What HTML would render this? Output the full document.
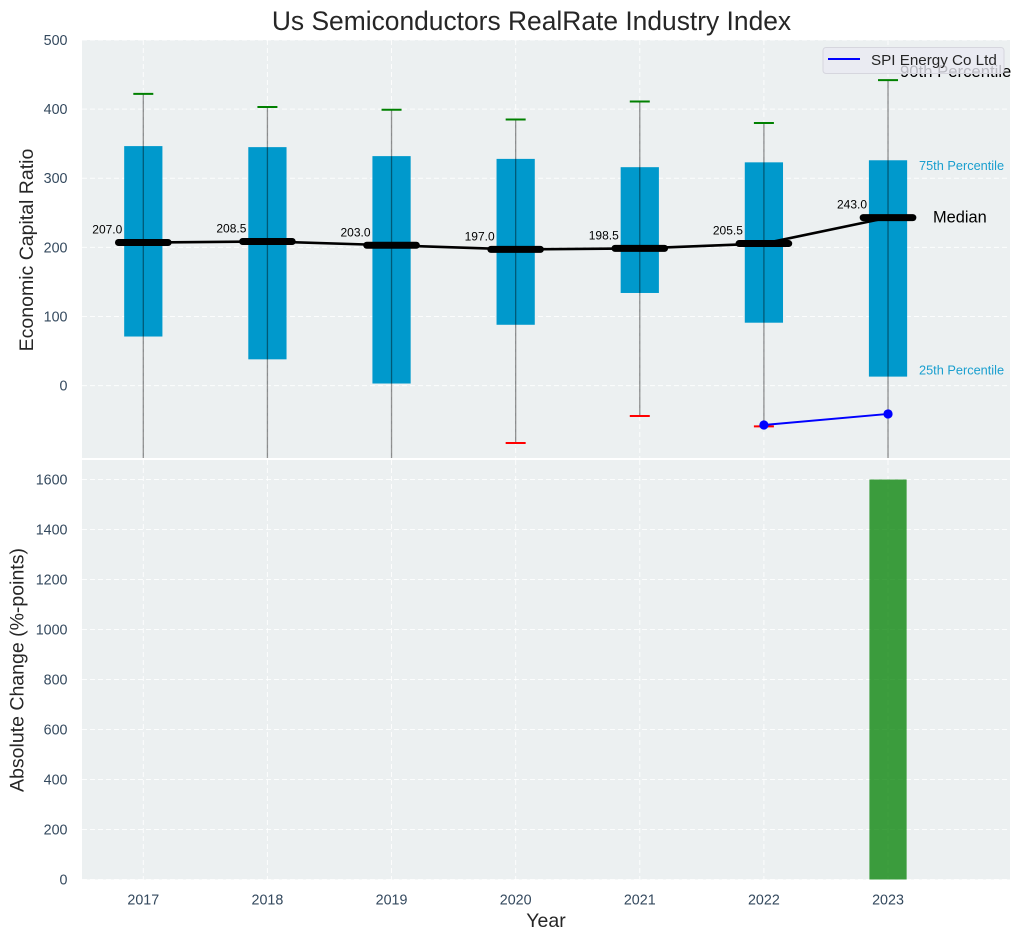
<!DOCTYPE html>
<html lang="en">
<head>
<meta charset="utf-8">
<title>Us Semiconductors RealRate Industry Index</title>
<style>
html,body{margin:0;padding:0;background:#fff;width:1021px;height:940px;overflow:hidden}
svg{display:block;font-family:"Liberation Sans",Arial,sans-serif}
</style>
</head>
<body>
<svg id="chart" xmlns="http://www.w3.org/2000/svg" width="1021" height="940" viewBox="0 0 1021 940">
  <defs>
    <clipPath id="clip-top"><rect x="82" y="40" width="928" height="418"></rect></clipPath>
    <clipPath id="clip-bottom"><rect x="82" y="460" width="928" height="419.5"></rect></clipPath>
  </defs>
  <rect x="0" y="0" width="1021" height="940" fill="#ffffff"></rect>
  <text x="531.5" y="30" font-size="26.4" text-anchor="middle" fill="#262626">Us Semiconductors RealRate Industry Index</text>
  <rect x="82" y="40" width="928" height="418" fill="#ecf0f1"></rect>
  <rect x="82" y="460" width="928" height="419.5" fill="#ecf0f1"></rect>
  <g id="top-grid"></g>
  <g id="bottom-grid"></g>
  <g id="top-marks" clip-path="url(#clip-top)"></g>
  <g id="bottom-marks" clip-path="url(#clip-bottom)"></g>
  <g id="tick-labels"></g>
  <g id="value-labels"></g>
  <text x="900" y="77" font-size="16.7" fill="#000000">90th Percentile</text>
  <text x="919" y="170" font-size="12.75" fill="#1a9fcf">75th Percentile</text>
  <text x="933" y="222.5" font-size="16.4" fill="#000000">Median</text>
  <text x="919" y="374.5" font-size="12.75" fill="#1a9fcf">25th Percentile</text>
  <g>
    <rect x="823" y="47.5" width="181" height="26" rx="3" fill="#eaeaf2" fill-opacity="0.8" stroke="#d6d6de" stroke-width="1"></rect>
    <line x1="828" y1="59" x2="860" y2="59" stroke="#0000ff" stroke-width="2"></line>
    <text x="871" y="65" font-size="15.2" fill="#262626">SPI Energy Co Ltd</text>
  </g>
  <text transform="translate(33,250) rotate(-90)" font-size="19.5" text-anchor="middle" fill="#262626">Economic Capital Ratio</text>
  <text transform="translate(23.5,670) rotate(-90)" font-size="19.5" text-anchor="middle" fill="#262626">Absolute Change (%-points)</text>
  <text x="546" y="927" font-size="19.5" text-anchor="middle" fill="#262626">Year</text>
</svg>
<script>
var years = [2017, 2018, 2019, 2020, 2021, 2022, 2023];
var p90 = [422, 403, 399, 385, 411, 380, 442];
var p75 = [346.5, 345, 332, 328, 316, 323, 326];
var medians = [207, 208.5, 203, 197, 198.5, 205.5, 243];
var p25 = [71, 38, 3, 88, 134, 91, 13];
var p10 = [-130, -150, -140, -83, -44, -59, -125];
var companyYears = [2022, 2023];
var companyValues = [-57, -41];
var absoluteChange = [0, 0, 0, 0, 0, 0, 1600];
var topTicks = [0, 100, 200, 300, 400, 500];
var bottomTicks = [0, 200, 400, 600, 800, 1000, 1200, 1400, 1600];

var NS = 'http://www.w3.org/2000/svg';
function x(year) { return 143.3 + (year - 2017) * 124.12; }
function yTop(v) { return 385.6 - v * 0.6912; }
function yBottom(v) { return 879.5 - v * 0.25; }
function make(tag, parent, attrs) {
  var el = document.createElementNS(NS, tag);
  for (var k in attrs) el.setAttribute(k, attrs[k]);
  parent.appendChild(el);
  return el;
}
var topGrid = document.getElementById('top-grid');
var bottomGrid = document.getElementById('bottom-grid');
var topMarks = document.getElementById('top-marks');
var bottomMarks = document.getElementById('bottom-marks');
var tickLabels = document.getElementById('tick-labels');
var valueLabels = document.getElementById('value-labels');
var grid = {stroke: '#ffffff', 'stroke-width': 1, 'stroke-dasharray': '5 3', 'stroke-opacity': 0.85};
function gridLine(parent, x1, y1, x2, y2, name) {
  var a = {x1: x1, y1: y1, x2: x2, y2: y2};
  for (var k in grid) a[k] = grid[k];
  var el = make('line', parent, a);
  
  
}
function tickText(px, py, anchor, txt, name) {
  var el = make('text', tickLabels, {x: px, y: py, 'text-anchor': anchor, 'font-size': 14.3, fill: '#34495e'});
  el.textContent = txt;
  
  
}
topTicks.forEach(function (t) {
  gridLine(topGrid, 82, yTop(t), 1010, yTop(t), 'top-grid-line-' + t);
  tickText(67.5, yTop(t) + 5, 'end', String(t), 'top-y-tick-' + t);
});
bottomTicks.forEach(function (t) {
  gridLine(bottomGrid, 82, yBottom(t), 1010, yBottom(t), 'bottom-grid-line-' + t);
  tickText(67.5, yBottom(t) + 5, 'end', String(t), 'bottom-y-tick-' + t);
});
years.forEach(function (yr, i) {
  var cx = x(yr);
  gridLine(topGrid, cx, 40, cx, 458, 'top-grid-line-' + yr);
  gridLine(bottomGrid, cx, 460, cx, 879.5, 'bottom-grid-line-' + yr);
  tickText(cx, 904.5, 'middle', String(yr), 'x-tick-' + yr);

  var halfBox = x(yr + 0.15) - cx;
  var box = make('rect', topMarks, {x: cx - halfBox - 0.5, y: yTop(p75[i]), width: 2 * halfBox + 1, height: yTop(p25[i]) - yTop(p75[i]), fill: '#0099cc'});
  
  

  var whisker = make('line', topMarks, {x1: cx, y1: yTop(p90[i]), x2: cx, y2: yTop(p10[i]), stroke: '#000000', 'stroke-opacity': 0.42, 'stroke-width': 1.3});
  
  

  var capHigh = make('line', topMarks, {x1: cx - 10, y1: yTop(p90[i]), x2: cx + 10, y2: yTop(p90[i]), stroke: '#008000', 'stroke-width': 2});
  
  

  var capLow = make('line', topMarks, {x1: cx - 10, y1: yTop(p10[i]), x2: cx + 10, y2: yTop(p10[i]), stroke: '#ff0000', 'stroke-width': 2});
  
  

  var bar = make('rect', bottomMarks, {x: cx - halfBox, y: yBottom(absoluteChange[i]), width: 2 * halfBox, height: yBottom(0) - yBottom(absoluteChange[i]), fill: '#008000', 'fill-opacity': 0.75});
  
  
});
var medianPts = years.map(function (yr, i) { return x(yr) + ',' + yTop(medians[i]); }).join(' ');
var medianLine = make('polyline', topMarks, {points: medianPts, fill: 'none', stroke: '#000000', 'stroke-width': 2.6});


years.forEach(function (yr, i) {
  var cx = x(yr);
  var half = x(yr + 0.2) - cx;
  var seg = make('line', topMarks, {x1: cx - half, y1: yTop(medians[i]), x2: cx + half, y2: yTop(medians[i]), stroke: '#000000', 'stroke-width': 7, 'stroke-linecap': 'round'});
  
  
  var lab = make('text', valueLabels, {x: cx - 21, y: yTop(medians[i]) - 9, 'text-anchor': 'end', 'font-size': 12, fill: '#000000'});
  lab.textContent = medians[i].toFixed(1);
  
  
});
var companyPts = companyYears.map(function (yr, i) { return x(yr) + ',' + yTop(companyValues[i]); }).join(' ');
var companyLine = make('polyline', topMarks, {points: companyPts, fill: 'none', stroke: '#0000ff', 'stroke-width': 2});


companyYears.forEach(function (yr, i) {
  var pt = make('circle', topMarks, {cx: x(yr), cy: yTop(companyValues[i]), r: 4.6, fill: '#0000ff'});
  
  
});
</script>
</body>
</html>
